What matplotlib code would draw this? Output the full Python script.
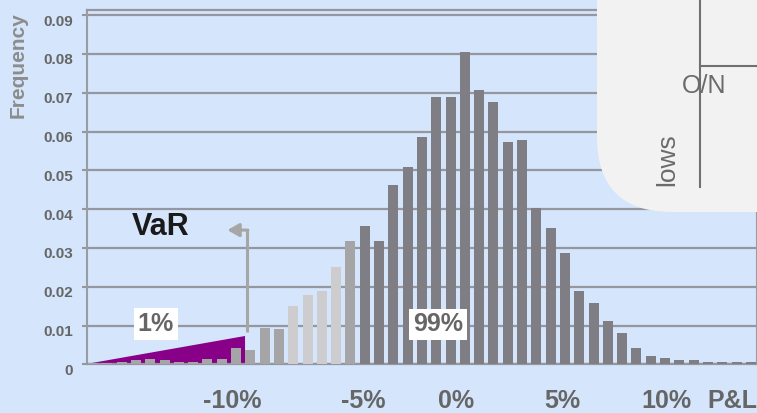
import numpy as np
import matplotlib.pyplot as plt
from matplotlib.patches import FancyBboxPatch
from matplotlib.transforms import ScaledTranslation
from matplotlib.lines import Line2D

plt.rcParams['font.family'] = ['Liberation Sans', 'DejaVu Sans']

# P&L histogram: relative frequency per return bin
freq = [0.0004, 0.0004, 0.0007, 0.0011, 0.0014, 0.0011, 0.0007, 0.0007, 0.0014, 0.0014,
        0.0043, 0.0037, 0.0094, 0.0092, 0.0150, 0.0179, 0.0189, 0.0251, 0.0318, 0.0357,
        0.0318, 0.0462, 0.0509, 0.0586, 0.0689, 0.0689, 0.0805, 0.0707, 0.0676, 0.0573,
        0.0578, 0.0403, 0.0351, 0.0287, 0.0189, 0.0158, 0.0112, 0.0081, 0.0042, 0.0021,
        0.0016, 0.0011, 0.0011, 0.0006, 0.0006, 0.0006, 0.0006]
yticks = [0, 0.01, 0.02, 0.03, 0.04, 0.05, 0.06, 0.07, 0.08, 0.09]
ytick_labels = ['0', '0.01', '0.02', '0.03', '0.04', '0.05', '0.06', '0.07', '0.08', '0.09']
xtick_labels = ['-10%', '-5%', '0%', '5%', '10%', 'P&L']
xtick_pos = [9.72, 18.88, 25.36, 32.8, 40.07, 44.69]

var_bin = 10.63      # VaR cut-off between bins
var_height = 0.0073  # top of the shaded 1% tail wedge
tail_label, body_label = '1%', '99%'

bg = '#d5e5fb'
grid_c = '#9597a0'
dark, mid, light = '#7f7e84', '#a5a5a8', '#cdcdd0'

fig = plt.figure(figsize=(7.57, 4.13), dpi=100, facecolor=bg)
ax = fig.add_axes([87 / 757, 48.7 / 413, 670 / 757, 354.3 / 413], facecolor=bg)

x = np.arange(len(freq))
colors = []
for i in x:
    if 14 <= i <= 17:
        colors.append(light)
    elif i <= 18:
        colors.append(mid)
    else:
        colors.append(dark)
ax.bar(x, freq, width=0.7, color=colors, zorder=3)

# shaded tail wedge up to the VaR bin
ax.fill([-0.6, var_bin, var_bin], [0, var_height, 0], color='#880088', zorder=2, lw=0)

ax.set_xlim(-0.42, 46.43)
ax.set_ylim(0, 0.09134)
ax.set_yticks(yticks, ytick_labels)
ax.set_xticks(xtick_pos, xtick_labels)
ax.set_axisbelow(True)
ax.grid(axis='y', color=grid_c, lw=1.6)
ax.grid(axis='x', visible=False)

for side in ['left', 'right']:
    ax.spines[side].set_color('#9a9ca4')
    ax.spines[side].set_linewidth(1.5)
ax.spines['top'].set_color(grid_c)
ax.spines['top'].set_linewidth(1.6)
ax.spines['bottom'].set_color(grid_c)
ax.spines['bottom'].set_linewidth(1.6)

ax.tick_params(axis='y', length=3.6, width=1.5, color=grid_c, pad=6.5,
               labelsize=11, labelcolor='#666666')
ax.tick_params(axis='x', length=0, pad=18, labelsize=18, labelcolor='#666666')
for lab in ax.get_yticklabels():
    lab.set_fontweight('bold')
    lab.set_transform(lab.get_transform() + ScaledTranslation(0, -5 / 100, fig.dpi_scale_trans))
for lab in ax.get_xticklabels():
    lab.set_fontweight('bold')

fig.text(18 / 757, 1 - 65 / 413, 'Frequency', rotation=90, ha='center', va='center',
         fontsize=15, fontweight='bold', color='#8c8c8c')

# VaR marker: vertical line then arrow pointing left
ax.plot([10.75, 10.75], [0.0083, 0.0348], color='#a6a6a6', lw=2.2, zorder=4,
        solid_capstyle='butt')
ax.annotate('', xy=(9.4, 0.0346), xytext=(10.83, 0.0346),
            arrowprops=dict(arrowstyle='-|>,head_length=0.7,head_width=0.4',
                            color='#a6a6a6', lw=2.2, shrinkA=0, shrinkB=0), zorder=4)
ax.text(4.75, 0.0353, 'VaR', fontsize=22, fontweight='bold', color='#1a1a1a',
        ha='center', va='center')

box = dict(boxstyle='square,pad=0.15', facecolor='white', edgecolor='none')
ax.text(4.4, 0.0104, tail_label, fontsize=18, fontweight='bold', color='#666666',
        ha='center', va='center', bbox=box, zorder=5)
ax.text(24.13, 0.0103, body_label, fontsize=18, fontweight='bold', color='#666666',
        ha='center', va='center', bbox=box, zorder=5)

# grey panel in the top-right corner
H = 413
panel = FancyBboxPatch((597 + 75, H - 212 + 75), 400, 400,
                       boxstyle='round,pad=75,rounding_size=75',
                       transform=None, facecolor='#f2f2f2', edgecolor='none', zorder=5)
fig.add_artist(panel)
fig.add_artist(Line2D([700, 700], [H - 187, H + 5], transform=None, color='#707070',
                      lw=1.5, zorder=6))
fig.add_artist(Line2D([700, 760], [H - 66, H - 66], transform=None, color='#707070',
                      lw=1.5, zorder=6))
fig.text(704 / 757, 1 - 86 / 413, 'O/N', fontsize=18, color='#6b6b6b',
         ha='center', va='center', zorder=7)
fig.text(667 / 757, 1 - 160 / 413, 'lows', fontsize=19, color='#6b6b6b', rotation=90,
         ha='center', va='center', zorder=7)

fig.savefig('out.png', dpi=100, facecolor=bg)
